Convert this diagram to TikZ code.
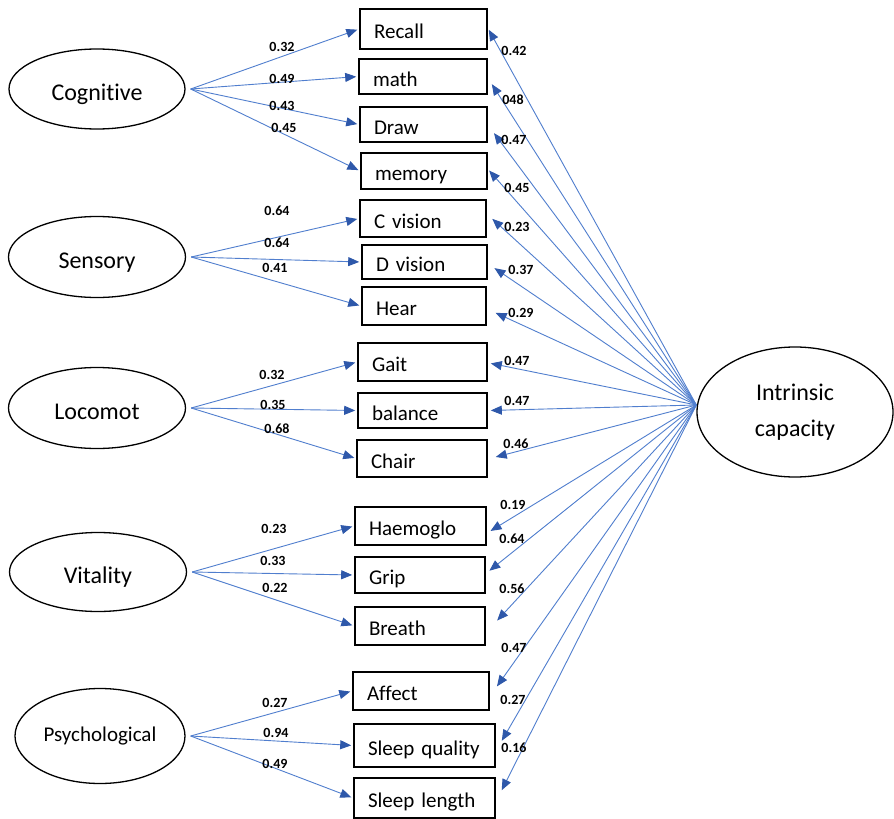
\documentclass[tikz,border=0pt]{standalone}
\usepackage{fontspec}
\setmainfont{Carlito}[Ligatures=NoCommon]
\usetikzlibrary{shapes.geometric,arrows.meta}
\definecolor{arrblue}{RGB}{80,126,206}
\definecolor{tipblue}{RGB}{46,88,170}
\tikzset{
  lat/.style={draw=black,line width=1.3pt,ellipse,inner sep=0pt,font=\fontsize{24}{36}\selectfont,align=center},
  lowtext/.style={text height=28pt,text depth=6pt},
  obs/.style={draw=black,line width=1.6pt,inner sep=0pt,font=\fontsize{21}{25}\selectfont,text height=24pt,text depth=5pt},
  lab/.style={font=\fontsize{14}{16}\selectfont\bfseries,inner sep=0pt},
  arr/.style={draw=arrblue,line width=0.9pt,-{Triangle[length=11pt,width=9pt,color=tipblue]},shorten >=2pt}
}
\newcommand{\obsbox}[6]{% name, cx, cy, w, h, text
  \node[obs,minimum width=#4pt,minimum height=#5pt,text width=#4pt-28pt,align=left] (#1) at (#2,#3) {#6};}
\begin{document}
\begin{tikzpicture}[x=1pt,y=-1pt]
\useasboundingbox (0,0) rectangle (894,819);
\fill[white] (0,0) rectangle (894,819);
% latent ellipses
\node[lat,lowtext,minimum width=176pt,minimum height=80pt] (cog) at (97,89) {Cognitive};
\node[lat,lowtext,minimum width=177pt,minimum height=81pt] (sen) at (97,257) {Sensory};
\node[lat,lowtext,minimum width=177pt,minimum height=81pt] (loc) at (97,408) {Locomot};
\node[lat,lowtext,minimum width=177pt,minimum height=79pt] (vit) at (98,572) {Vitality};
\node[lat,font=\fontsize{21}{25}\selectfont,minimum width=170pt,minimum height=95pt] (psy) at (100,736) {Psychological};
\node[lat,minimum width=196pt,minimum height=130pt] (ic) at (795,412) {Intrinsic\\capacity};
\coordinate (hub) at ([yshift=7pt]ic.west);
% observed boxes
\obsbox{recall}{423.5}{29}{127}{40}{Recall}
\obsbox{math}{423}{76.5}{128}{35}{math}
\obsbox{draw}{423.5}{124.5}{127}{35}{Draw}
\obsbox{memory}{424}{171}{126}{36}{memory}
\obsbox{cvis}{423}{218.5}{126}{37}{C vision}
\obsbox{dvis}{424.5}{262}{125}{34}{D vision}
\obsbox{hear}{424}{306}{124}{38}{Hear}
\obsbox{gait}{422.5}{362}{129}{38}{Gait}
\obsbox{bal}{422.5}{410.5}{129}{35}{balance}
\obsbox{chair}{422}{458.5}{130}{37}{Chair}
\obsbox{haem}{420.5}{526}{131}{38}{Haemoglo}
\obsbox{grip}{420}{575}{130}{36}{Grip}
\obsbox{breath}{420}{626}{130}{38}{Breath}
\obsbox{affect}{421}{691}{136}{38}{Affect}
\obsbox{sleepq}{424.5}{745.5}{141}{43}{Sleep quality}
\obsbox{sleepl}{424.5}{798}{141}{40}{Sleep length}
% left arrows
\foreach \s/\t in {cog/recall,cog/math,cog/draw,cog/memory,
                   sen/cvis,sen/dvis,sen/hear,
                   loc/gait,loc/bal,loc/chair,
                   vit/haem,vit/grip,vit/breath,
                   psy/affect,psy/sleepq,psy/sleepl}
  \draw[arr] ([xshift=5pt]\s.east) -- (\t.west);
% right arrows
\draw[arr] (hub) -- ([shift={(0,-1)}]recall.east);
\draw[arr] (hub) -- ([shift={(3,6)}]math.east);
\draw[arr] (hub) -- ([shift={(5,7)}]draw.east);
\draw[arr] (hub) -- ([shift={(0,-2)}]memory.east);
\draw[arr] (hub) -- ([shift={(4,-1)}]cvis.east);
\draw[arr] (hub) -- ([shift={(5,5)}]dvis.east);
\draw[arr] (hub) -- ([shift={(7,6)}]hear.east);
\draw[arr] (hub) -- ([shift={(1,1)}]gait.east);
\draw[arr] (hub) -- ([shift={(1,0)}]bal.east);
\draw[arr] (hub) -- ([shift={(6,-1)}]chair.east);
\draw[arr] (hub) -- ([shift={(2,6)}]haem.east);
\draw[arr] (hub) -- ([shift={(2,-3)}]grip.east);
\draw[arr] (hub) -- ([shift={(10,-4)}]breath.east);
\draw[arr] (hub) -- ([shift={(6,-3)}]affect.east);
\draw[arr] (hub) -- ([shift={(5,-3)}]sleepq.east);
\draw[arr] (hub) -- ([shift={(5,-6)}]sleepl.east);
% left labels
\node[lab] (l1) at (282,47) {0.32};
\node[lab] (l2) at (282,79) {0.49};
\node[lab] (l3) at (282,106) {0.43};
\node[lab] (l4) at (284,128) {0.45};
\node[lab] (l5) at (277,211) {0.64};
\node[lab] (l6) at (277,243) {0.64};
\node[lab] (l7) at (275,268) {0.41};
\node[lab] (l8) at (272,375) {0.32};
\node[lab] (l9) at (273,405) {0.35};
\node[lab] (l10) at (277,429) {0.68};
\node[lab] (l11) at (274,529) {0.23};
\node[lab] (l12) at (273,561) {0.33};
\node[lab] (l13) at (275,588) {0.22};
\node[lab] (l14) at (275,703) {0.27};
\node[lab] (l15) at (276,733) {0.94};
\node[lab] (l16) at (275,764) {0.49};
% right labels
\node[lab] (r1) at (514,51) {0.42};
\node[lab] (r2) at (513,100) {048};
\node[lab] (r3) at (514,140) {0.47};
\node[lab] (r4) at (517,188) {0.45};
\node[lab] (r5) at (517,227) {0.23};
\node[lab] (r6) at (521,270) {0.37};
\node[lab] (r7) at (521,313) {0.29};
\node[lab] (r8) at (517,361) {0.47};
\node[lab] (r9) at (517,401) {0.47};
\node[lab] (r10) at (516,444) {0.46};
\node[lab] (r11) at (513,505) {0.19};
\node[lab] (r12) at (512,539) {0.64};
\node[lab] (r13) at (512,589) {0.56};
\node[lab] (r14) at (514,648) {0.47};
\node[lab] (r15) at (513,700) {0.27};
\node[lab] (r16) at (514,748) {0.16};
\end{tikzpicture}
\end{document}
